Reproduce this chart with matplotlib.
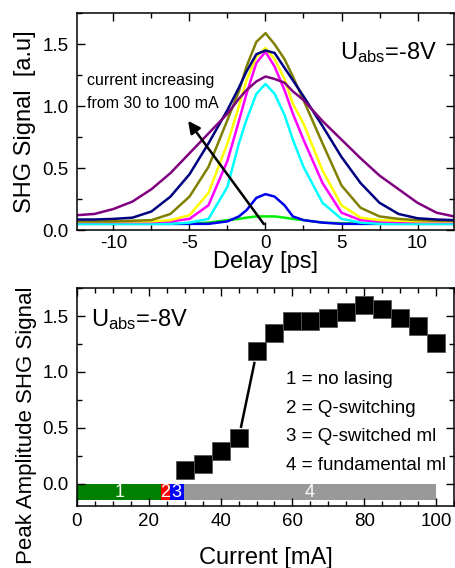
import matplotlib
matplotlib.use('Agg')
import matplotlib.pyplot as plt
from matplotlib.ticker import MultipleLocator

plt.rcParams['font.family'] = ['Liberation Sans', 'DejaVu Sans']
plt.rcParams['mathtext.fontset'] = 'custom'
plt.rcParams['mathtext.rm'] = 'Liberation Sans'
plt.rcParams['mathtext.it'] = 'Liberation Sans'
plt.rcParams['axes.unicode_minus'] = False

# top panel: SHG autocorrelation traces
delay = [-12.4, -11.25, -10, -8.75, -7.5, -6.25, -5, -3.75, -2.5, -1.75, -1.25, -0.6, 0,
         0.6, 1.25, 1.8, 2.5, 3.75, 5, 6.25, 7.5, 8.75, 10, 11.25, 12.4]
green = [0.05, 0.05, 0.05, 0.05, 0.05, 0.05, 0.05, 0.06, 0.08, 0.09, 0.10, 0.11, 0.11,
         0.11, 0.10, 0.09, 0.08, 0.06, 0.055, 0.05, 0.05, 0.05, 0.05, 0.05, 0.05]
blue = [0.05, 0.05, 0.05, 0.05, 0.05, 0.05, 0.05, 0.05, 0.07, 0.11, 0.16, 0.26, 0.29,
        0.27, 0.20, 0.11, 0.08, 0.06, 0.05, 0.05, 0.05, 0.05, 0.05, 0.05, 0.05]
cyan = [0.05, 0.05, 0.05, 0.05, 0.05, 0.05, 0.06, 0.09, 0.35, 0.70, 0.89, 1.10, 1.18,
        1.10, 0.93, 0.73, 0.51, 0.22, 0.09, 0.06, 0.05, 0.05, 0.05, 0.05, 0.05]
magenta = [0.065, 0.065, 0.065, 0.065, 0.065, 0.07, 0.09, 0.20, 0.56, 0.88, 1.10, 1.35, 1.44,
           1.32, 1.13, 0.94, 0.73, 0.38, 0.14, 0.08, 0.07, 0.065, 0.065, 0.065, 0.065]
yellow = [0.07, 0.07, 0.07, 0.07, 0.07, 0.08, 0.12, 0.30, 0.70, 1.00, 1.21, 1.40, 1.47,
          1.38, 1.22, 1.02, 0.86, 0.48, 0.20, 0.10, 0.08, 0.075, 0.07, 0.07, 0.07]
olive = [0.07, 0.07, 0.07, 0.075, 0.08, 0.13, 0.27, 0.51, 0.89, 1.12, 1.32, 1.52, 1.59,
         1.50, 1.38, 1.24, 1.05, 0.70, 0.36, 0.18, 0.11, 0.09, 0.08, 0.075, 0.075]
navy = [0.085, 0.085, 0.09, 0.10, 0.15, 0.27, 0.45, 0.70, 0.97, 1.15, 1.28, 1.42, 1.45,
        1.43, 1.31, 1.21, 1.08, 0.84, 0.59, 0.38, 0.22, 0.13, 0.095, 0.085, 0.08]
purple = [0.12, 0.13, 0.17, 0.23, 0.33, 0.46, 0.62, 0.78, 0.94, 1.06, 1.13, 1.20, 1.24,
          1.22, 1.19, 1.12, 1.05, 0.88, 0.73, 0.58, 0.44, 0.33, 0.22, 0.14, 0.11]
traces = [green, blue, cyan, magenta, yellow, olive, navy, purple]
trace_colors = ['#00ee00', '#0000ee', '#00ffff', '#ff00ff', '#ffff00', '#808000', '#000080', '#800080']

# bottom panel: peak amplitude vs current
current = [30, 35, 40, 45, 50, 55, 60, 65, 70, 75, 80, 85, 90, 95, 100]
peak = [0.12, 0.18, 0.29, 0.41, 1.19, 1.35, 1.46, 1.46, 1.48, 1.54, 1.60, 1.56, 1.48, 1.41, 1.26]
regime_edges = [0, 23.5, 25.8, 29.7, 100]
regime_labels = ['1', '2', '3', '4']
regime_colors = ['#008000', '#ff0000', '#0000ff', '#999999']
legend_lines = ['1 = no lasing', '2 = Q-switching', '3 = Q-switched ml', '4 = fundamental ml']

fig = plt.figure(figsize=(4.55, 5.68), dpi=100)
ax1 = fig.add_axes([0.1692, 0.595, 0.8286, 0.3815])
ax2 = fig.add_axes([0.1692, 0.1092, 0.8286, 0.3833])


def style_axes(ax):
    for s in ax.spines.values():
        s.set_linewidth(1.1)
    ax.tick_params(which='both', direction='in', top=True, right=True, width=1.0, labelsize=13.5)
    ax.tick_params(which='major', length=6)
    ax.tick_params(which='minor', length=3.5)
    ax.tick_params(axis='x', pad=3.5)
    ax.tick_params(axis='y', pad=6)


for y, c in zip(traces, trace_colors):
    ax1.plot(delay, y, color=c, lw=1.8)
ax1.set_xlim(-12.4, 12.4)
ax1.set_ylim(0, 1.75)
ax1.xaxis.set_major_locator(MultipleLocator(5))
ax1.xaxis.set_minor_locator(MultipleLocator(2.5))
ax1.yaxis.set_major_locator(MultipleLocator(0.5))
ax1.yaxis.set_minor_locator(MultipleLocator(0.25))
style_axes(ax1)
ax1.set_xlabel('Delay [ps]', fontsize=17, va='top')
ax1.xaxis.set_label_coords(0.5, -0.095)
ax1.set_ylabel('SHG Signal  [a.u]', fontsize=17)
ax1.yaxis.set_label_coords(-0.109, 0.5)
ax1.annotate('', xy=(-5.2, 0.90), xytext=(0, 0.03),
             arrowprops=dict(arrowstyle='-|>', color='black', lw=1.8, mutation_scale=18))
ax1.text(-11.75, 1.21, 'current increasing', fontsize=11.5, va='center', ha='left')
ax1.text(-11.75, 1.02, 'from 30 to 100 mA', fontsize=11.5, va='center', ha='left')
ax1.text(4.9, 1.43, r'U$_{\rm abs}$=-8V', fontsize=17, va='center', ha='left')

for i in range(len(regime_labels)):
    x0, x1 = regime_edges[i], regime_edges[i + 1]
    ax2.bar(x0, -0.15, width=x1 - x0, bottom=0, align='edge', color=regime_colors[i], lw=0)
    ax2.text((x0 + x1) / 2, -0.075, regime_labels[i], color='white', fontsize=13,
             ha='center', va='center')
ax2.plot([45.7, 49.4], [0.51, 1.08], color='black', lw=1.8)
ax2.plot(current, peak, 's', color='black', markersize=12.5, markeredgecolor='#555555',
         markeredgewidth=0.6, linestyle='none')
ax2.set_xlim(0, 105)
ax2.set_ylim(-0.2, 1.75)
ax2.xaxis.set_major_locator(MultipleLocator(20))
ax2.xaxis.set_minor_locator(MultipleLocator(5))
ax2.yaxis.set_major_locator(MultipleLocator(0.5))
ax2.yaxis.set_minor_locator(MultipleLocator(0.25))
style_axes(ax2)
ax2.tick_params(axis='x', pad=5)
ax2.set_xlabel('Current [mA]', fontsize=17, va='top')
ax2.xaxis.set_label_coords(0.5, -0.187)
ax2.set_ylabel('Peak Amplitude SHG Signal', fontsize=16)
ax2.yaxis.set_label_coords(-0.106, 0.37)
ax2.text(4.0, 1.47, r'U$_{\rm abs}$=-8V', fontsize=17, va='center', ha='left')
for k, line in enumerate(legend_lines):
    ax2.text(58.3, 0.93 - 0.255 * k, line, fontsize=13.5, va='center', ha='left')

fig.savefig('out.png', dpi=100)
